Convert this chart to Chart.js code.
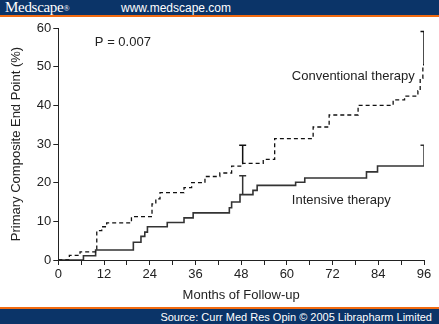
<!DOCTYPE html>
<html>
<head>
<meta charset="utf-8">
<script src="https://cdn.jsdelivr.net/npm/chart.js@4/dist/chart.umd.min.js"></script>
<style>
  html, body { margin: 0; padding: 0; background: #fff; }
  body { width: 439px; height: 324px; overflow: hidden; font-family: "Liberation Sans", Arial, sans-serif; }
  .top { height: 15px; background: #0b3468; border-bottom: 2px solid #f26a10; position: relative; }
  .top .brand { position: absolute; left: 5px; top: 0px; font: 15px "Liberation Serif", serif; color: #fff; line-height: 15px; letter-spacing: -0.3px; }
  .top .brand sup { font-size: 8px; vertical-align: 1px; }
  .top .url { position: absolute; left: 121px; top: 1px; font: 12px "Liberation Sans", Arial, sans-serif; color: #fff; line-height: 14px; }
  .wrap { position: relative; width: 439px; height: 290px; }
  .bottom { height: 15px; background: #0b3468; border-top: 2px solid #f26a10; position: relative; }
  .bottom span { position: absolute; right: 7px; top: 1px; font: 11px "Liberation Sans", Arial, sans-serif; color: #fff; line-height: 14px; }
</style>
</head>
<body>
<div class="top"><span class="brand">Medscape<sup>®</sup></span><span class="url">www.medscape.com</span></div>
<div class="wrap"><canvas id="km"></canvas></div>
<div class="bottom"><span>Source: Curr Med Res Opin © 2005 Librapharm Limited</span></div>
<script>
// Kaplan-Meier steps (months, % with primary end point)
const convMonths = [0, 2.9, 5.7, 10.1, 11.4, 12.7, 19.2, 24.6, 25.6, 26.7, 33, 35, 38.5, 42.4, 45.5, 48.4, 53.8, 56.8, 66.9, 71.1, 78.7, 87.9, 90.9, 94.4, 95, 95.7, 96];
const convPct = [0, 1.2, 2.1, 7.6, 8.6, 9.6, 11.2, 14.5, 15.8, 17.4, 18.7, 20, 21.6, 22.5, 24.3, 25, 26, 31.4, 34.4, 37.5, 40, 41.4, 42.4, 43.8, 47, 50.5, 50.5];

const intMonths = [0, 6.6, 9.8, 19.7, 21.7, 22.7, 23.4, 28.6, 33, 35.4, 44.9, 45.5, 47.7, 51.1, 52.2, 62.3, 64.7, 80.9, 83.8, 96];
const intPct = [0, 1.1, 2.6, 4.6, 6.1, 7.2, 8.6, 9.7, 10.9, 12.2, 13.5, 15, 16.9, 18, 19.3, 20.1, 21.2, 22.8, 24.3, 24.3];

// error bars: [month, low, high]
const convErr = [[48.4, 25, 29.7], [96, 50.5, 59.1]];
const intErr = [[48.4, 16.9, 21.8], [96, 24.3, 29.7]];

const xTicks = [0, 12, 24, 36, 48, 60, 72, 84, 96];
const yTicks = [0, 10, 20, 30, 40, 50, 60];

const notes = [
  { text: 'P = 0.007', x: 9.6, y: 56.3 },
  { text: 'Conventional therapy', x: 61.3, y: 47.4 },
  { text: 'Intensive therapy', x: 61.3, y: 15.4 },
];

const toPts = (xs, ys) => xs.map((x, i) => ({ x: x, y: ys[i] }));

const errSets = (list, color) => list.map((e) => ({
  data: [{ x: e[0], y: e[1] }, { x: e[0], y: e[2] }],
  borderColor: color,
  borderWidth: 1.5,
  pointStyle: 'line',
  pointRadius: [0, 3.5],
  pointBorderColor: color,
  pointBorderWidth: 1.5,
  showLine: true,
}));

const notesPlugin = {
  id: 'notes',
  afterDatasetsDraw(chart) {
    const { ctx, scales: { x, y } } = chart;
    ctx.save();
    ctx.fillStyle = '#222';
    ctx.font = '13px "Liberation Sans", Arial, sans-serif';
    ctx.textBaseline = 'middle';
    notes.forEach((n) => {
      ctx.fillText(n.text, x.getPixelForValue(n.x), y.getPixelForValue(n.y));
    });
    ctx.restore();
  },
};

const font = { family: '"Liberation Sans", Arial, sans-serif', size: 13 };

new Chart(document.getElementById('km'), {
  type: 'scatter',
  data: {
    datasets: [
      {
        data: toPts(convMonths, convPct),
        showLine: true,
        stepped: true,
        borderColor: '#111',
        borderWidth: 1.3,
        borderDash: [4, 3],
        pointRadius: 0,
      },
      {
        data: toPts(intMonths, intPct),
        showLine: true,
        stepped: true,
        borderColor: '#333',
        borderWidth: 1.6,
        pointRadius: 0,
      },
      ...errSets(convErr, '#111'),
      ...errSets(intErr, '#333'),
    ],
  },
  options: {
    responsive: true,
    maintainAspectRatio: false,
    animation: false,
    layout: { padding: { top: 11, right: 15, left: 0, bottom: 0 } },
    plugins: {
      legend: { display: false },
      tooltip: { enabled: false },
    },
    scales: {
      x: {
        type: 'linear',
        min: 0,
        max: 96,
        afterBuildTicks: (s) => {
          s.ticks = [];
          for (let m = 0; m <= 96; m += 6) s.ticks.push({ value: m });
        },
        afterFit: (s) => { s.height = 47; },
        ticks: {
          color: '#222',
          font: font,
          padding: 2,
          maxRotation: 0,
          autoSkip: false,
          callback: (v) => (xTicks.includes(v) ? String(v) : ''),
        },
        grid: { drawOnChartArea: false, tickLength: 5, color: '#222' },
        border: { color: '#222', width: 1 },
        title: { display: true, text: 'Months of Follow-up', color: '#222', font: font, padding: { top: 7 } },
      },
      y: {
        min: 0,
        max: 60,
        afterBuildTicks: (s) => { s.ticks = yTicks.map((v) => ({ value: v })); },
        afterFit: (s) => { s.width = 58.3; },
        ticks: { color: '#222', font: font, padding: 2 },
        grid: { drawOnChartArea: false, tickLength: 5, color: '#222' },
        border: { color: '#222', width: 1 },
        title: { display: true, text: 'Primary Composite End Point (%)', color: '#222', font: font, padding: 9 },
      },
    },
  },
  plugins: [notesPlugin],
});
</script>
</body>
</html>
